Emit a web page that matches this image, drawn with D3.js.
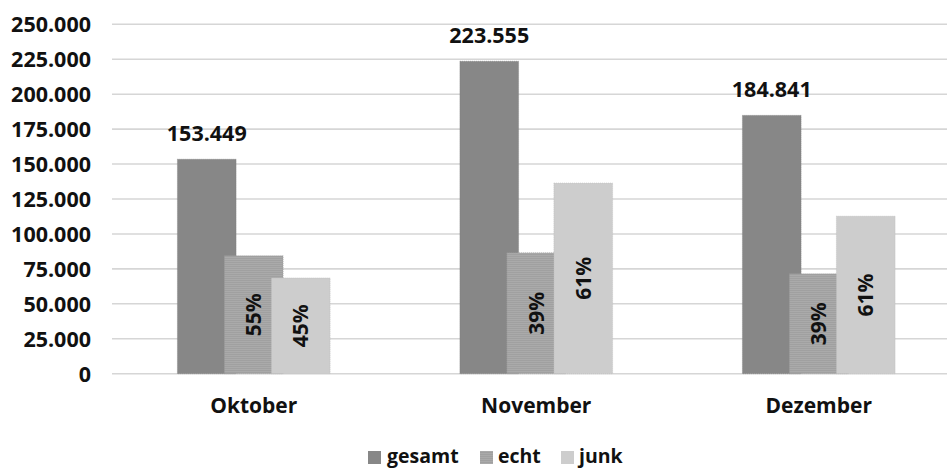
<!DOCTYPE html>
<html>
<head>
<meta charset="utf-8">
<script src="https://cdn.jsdelivr.net/npm/d3@7"></script>
<style>
  html, body { margin: 0; padding: 0; background: #fff; }
  svg { display: block; }
  text { font-family: "Open Sans", "Liberation Sans", sans-serif; font-weight: 700; fill: #111; }
</style>
</head>
<body>
<svg id="chart" width="947" height="470"></svg>
<script>
// Monthly message counts: total, genuine ("echt") and junk
const months = ["Oktober", "November", "Dezember"];
const series = ["gesamt", "echt", "junk"];
const gesamt = [153449, 223555, 184841];
const echt = [84400, 86500, 71500];
const junk = [68500, 136400, 112700];
const echtPct = [55, 39, 39];
const junkPct = [45, 61, 61];
const yTicks = [0, 25000, 50000, 75000, 100000, 125000, 150000, 175000, 200000, 225000, 250000];

const de = d3.formatLocale({ decimal: ",", thousands: ".", grouping: [3], currency: ["", " €"] });
const fmt = de.format(",d");

const svg = d3.select("#chart");
const W = 947;

const x = d3.scaleBand().domain(months).range([112.5, 960]).padding(0);
const y = d3.scaleLinear().domain([0, 250000]).range([373.7, 24.3]);
const barW = 58.7;
const off = d3.scalePoint().domain(series).range([-47, 47]);

const colors = { gesamt: "#878787", echt: "#a9a9a9", junk: "#cdcdcd" };

// fine woven texture for the "echt" bars
const defs = svg.append("defs");
const pat = defs.append("pattern")
  .attr("id", "echtTex").attr("patternUnits", "userSpaceOnUse")
  .attr("width", 4).attr("height", 4);
pat.append("rect").attr("width", 4).attr("height", 4).attr("fill", "#aaaaaa");
pat.append("path").attr("d", "M0,1 L1,0 L2,1 L3,0 L4,1 M0,3 L1,2 L2,3 L3,2 L4,3")
  .attr("stroke", "#9c9c9c").attr("stroke-width", 0.7).attr("fill", "none");

// horizontal gridlines
svg.append("g")
  .selectAll("line")
  .data(yTicks)
  .join("line")
  .attr("x1", 112).attr("x2", W)
  .attr("y1", d => y(d)).attr("y2", d => y(d))
  .attr("stroke", "#d6d6d6").attr("stroke-width", 1.6);

// y axis labels
const yAxis = svg.append("g")
  .attr("transform", "translate(97,0)")
  .call(d3.axisLeft(y).tickValues(yTicks).tickSize(0).tickPadding(6).tickFormat(d => fmt(d)));
yAxis.select(".domain").remove();
yAxis.selectAll("text")
  .attr("font-size", 21.5).attr("font-family", "'Open Sans', sans-serif")
  .attr("font-weight", 700).attr("fill", "#111").attr("dy", "0.34em");

// bars
const rows = months.map((m, i) => ({
  month: m,
  vals: [
    { s: "gesamt", v: gesamt[i] },
    { s: "echt", v: echt[i], pct: echtPct[i] },
    { s: "junk", v: junk[i], pct: junkPct[i] }
  ]
}));

const groups = svg.append("g").selectAll("g")
  .data(rows).join("g")
  .attr("transform", d => `translate(${x(d.month) + x.bandwidth() / 2},0)`);

groups.selectAll("rect")
  .data(d => d.vals)
  .join("rect")
  .attr("x", d => off(d.s) - barW / 2)
  .attr("y", d => y(d.v))
  .attr("width", barW)
  .attr("height", d => y(0) - y(d.v))
  .attr("fill", d => d.s === "echt" ? "url(#echtTex)" : colors[d.s])
  .attr("stroke", d => d3.color(colors[d.s]).darker(0.3))
  .attr("stroke-width", 0.6)
  .attr("stroke-dasharray", "1,1");

// total value labels above the "gesamt" bars
groups.append("text")
  .attr("x", off("gesamt"))
  .attr("y", d => y(d.vals[0].v) - 18)
  .attr("text-anchor", "middle")
  .attr("font-size", 21.5)
  .text(d => fmt(d.vals[0].v));

// share labels, rotated, centred in the echt / junk bars
groups.selectAll("text.pct")
  .data(d => d.vals.filter(v => v.pct != null))
  .join("text")
  .attr("class", "pct")
  .attr("transform", d => `translate(${off(d.s)},${(y(d.v) + y(0)) / 2}) rotate(-90)`)
  .attr("text-anchor", "middle")
  .attr("dy", "0.36em")
  .attr("font-size", 21)
  .text(d => d.pct + "%");

// category labels
svg.append("g").selectAll("text")
  .data(months).join("text")
  .attr("x", d => x(d) + x.bandwidth() / 2)
  .attr("y", 413)
  .attr("text-anchor", "middle")
  .attr("font-size", 21)
  .text(d => d);

// legend
const legendPos = [
  { s: "gesamt", sx: 368, tx: 387 },
  { s: "echt", sx: 480, tx: 498 },
  { s: "junk", sx: 561, tx: 579 }
];
const lg = svg.append("g");
lg.selectAll("rect").data(legendPos).join("rect")
  .attr("x", d => d.sx).attr("y", 451).attr("width", 13).attr("height", 13)
  .attr("fill", d => d.s === "echt" ? "url(#echtTex)" : colors[d.s]);
lg.selectAll("text").data(legendPos).join("text")
  .attr("x", d => d.tx).attr("y", 463)
  .attr("font-size", 19.5)
  .text(d => d.s);
</script>
</body>
</html>
